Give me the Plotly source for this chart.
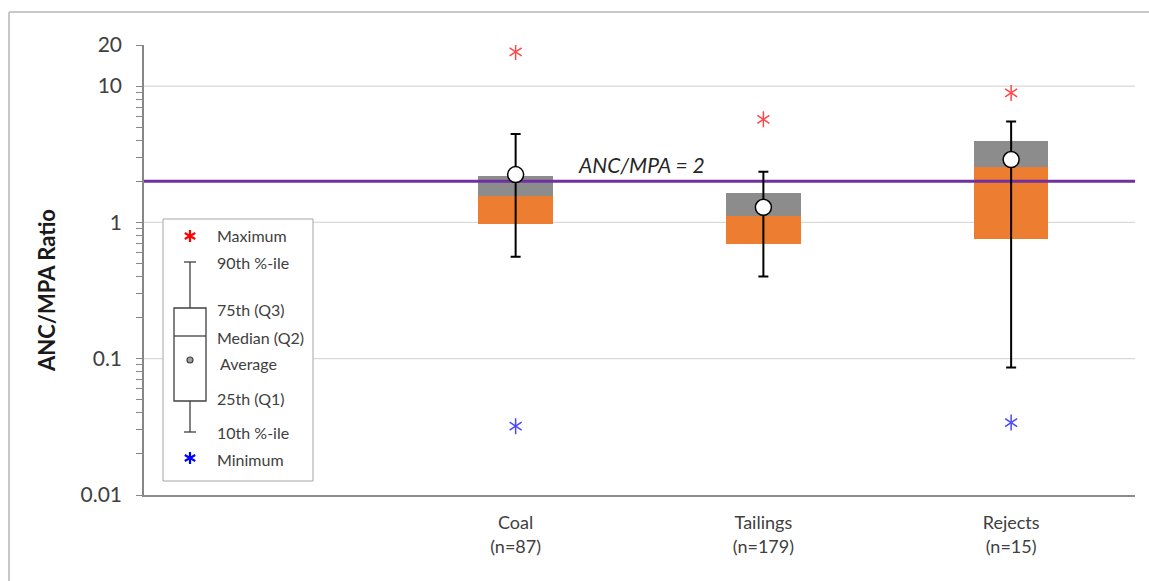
import numpy as np
import plotly.graph_objects as go

# Summary statistics of the ANC/MPA ratio per material type
categories = ["Coal", "Tailings", "Rejects"]
sample_counts = [87, 179, 15]
maximum = [17.8, 5.7, 8.9]
pct90 = [4.45, 2.35, 5.5]
q3 = [2.18, 1.63, 3.98]
median = [1.56, 1.12, 2.54]
average = [2.24, 1.29, 2.89]
q1 = [0.98, 0.69, 0.75]
pct10 = [0.56, 0.40, 0.086]
minimum = [0.032, None, 0.034]
threshold = 2

y_tick_vals = [0.01, 0.1, 1, 10, 20]
y_tick_text = ["0.01", "0.1", "1", "10", "20"]
grid_vals = [0.1, 1, 10]

FONT = "Lato"
ORANGE = "#ED7D31"
GREY = "#8C8C8C"
PURPLE = "#7030A0"
RED = "#FF4848"
BLUE = "#4848FF"

xpos = [1, 2, 3]
tick_text = [f"{c}<br>(n={n})" for c, n in zip(categories, sample_counts)]

# plot-area pixel geometry (figure is 1149 x 581)
W, H = 1149, 581
L, R, T, B = 144, 1135, 45, 495


def px(x):
    return (x - L) / (R - L)


def py(y):
    return (B - y) / (B - T)


fig = go.Figure()

# lower half of the box: Q1 -> median
fig.add_trace(go.Bar(
    x=xpos, base=q1, y=[m - a for m, a in zip(median, q1)],
    width=0.3, marker=dict(color=ORANGE, line=dict(width=0)),
    showlegend=False, hoverinfo="skip"))
# upper half of the box: median -> Q3
fig.add_trace(go.Bar(
    x=xpos, base=median, y=[b - m for b, m in zip(q3, median)],
    width=0.3, marker=dict(color=GREY, line=dict(width=0)),
    showlegend=False, hoverinfo="skip"))

# ANC/MPA = 2 reference line
fig.add_trace(go.Scatter(
    x=[-0.5, 3.5], y=[threshold, threshold], mode="lines",
    line=dict(color=PURPLE, width=3), showlegend=False, hoverinfo="skip"))

# average with 10th-90th percentile whiskers
fig.add_trace(go.Scatter(
    x=xpos, y=average, mode="markers",
    marker=dict(symbol="circle", size=16, color="white",
                line=dict(color="black", width=1.5)),
    error_y=dict(type="data", symmetric=False,
                 array=[p - a for p, a in zip(pct90, average)],
                 arrayminus=[a - p for a, p in zip(average, pct10)],
                 color="black", thickness=2, width=5),
    showlegend=False))

# maximum / minimum as six-armed stars
for vals, col in ((maximum, RED), (minimum, BLUE)):
    for sym in ("y-up-open", "y-down-open"):
        fig.add_trace(go.Scatter(
            x=xpos, y=vals, mode="markers",
            marker=dict(symbol=sym, size=10, color=col,
                        line=dict(color=col, width=1.5)),
            showlegend=False, hoverinfo="skip"))

shapes = []
# horizontal gridlines
for g in grid_vals:
    shapes.append(dict(type="line", xref="paper", yref="y", x0=0, x1=1,
                       y0=g, y1=g, layer="below",
                       line=dict(color="#D9D9D9", width=1.3)))

# outer frame (top and left edges)
shapes.append(dict(type="line", xref="paper", yref="paper",
                   x0=px(9), x1=px(W + 5), y0=py(12), y1=py(12),
                   line=dict(color="#C8C8C8", width=2)))
shapes.append(dict(type="line", xref="paper", yref="paper",
                   x0=px(9), x1=px(9), y0=py(12), y1=py(H + 5),
                   line=dict(color="#C8C8C8", width=2)))

# key panel
shapes.append(dict(type="rect", xref="paper", yref="paper",
                   x0=px(163), x1=px(313), y0=py(219), y1=py(481),
                   layer="below", fillcolor="white",
                   line=dict(color="#A6A6A6", width=1)))

KC = 190  # key glyph centre column
dark = "#404040"


def seg(x0, y0, x1, y1, color=dark, width=1.3):
    return dict(type="line", xref="paper", yref="paper",
                x0=px(x0), x1=px(x1), y0=py(y0), y1=py(y1),
                line=dict(color=color, width=width))


def star(cx, cy, color, r=6):
    out = [seg(cx, cy - r, cx, cy + r, color, 2.2)]
    dx, dy = r * 0.87, r * 0.5
    out.append(seg(cx - dx, cy - dy, cx + dx, cy + dy, color, 2.2))
    out.append(seg(cx - dx, cy + dy, cx + dx, cy - dy, color, 2.2))
    return out


shapes += star(KC, 236, "#FF0000")
shapes += star(KC, 458, "#0000FF")
shapes.append(seg(KC - 6, 262, KC + 6, 262))
shapes.append(seg(KC, 262, KC, 308))
shapes.append(dict(type="rect", xref="paper", yref="paper",
                   x0=px(174), x1=px(206), y0=py(308), y1=py(401),
                   fillcolor="white", line=dict(color=dark, width=1.3)))
shapes.append(seg(174, 336, 206, 336))
shapes.append(seg(KC, 401, KC, 432))
shapes.append(seg(KC - 6, 432, KC + 6, 432))
shapes.append(dict(type="circle", xref="paper", yref="paper",
                   x0=px(KC - 3), x1=px(KC + 3), y0=py(357), y1=py(363),
                   fillcolor="#A0A0A0", line=dict(color=dark, width=1.2)))

key_labels = [("Maximum", 236, 215), ("90th %-ile", 262, 215),
              ("75th (Q3)", 309, 215), ("Median (Q2)", 337, 215),
              ("Average", 363, 218), ("25th (Q1)", 398, 215),
              ("10th %-ile", 432, 215), ("Minimum", 459, 215)]

annotations = []
for text, yy, xx in key_labels:
    annotations.append(dict(text=text, xref="paper", yref="paper",
                            x=px(xx), y=py(yy), xanchor="left",
                            yanchor="middle", showarrow=False,
                            font=dict(family=FONT, size=16, color="#404040")))

annotations.append(dict(text="<i>ANC/MPA = 2</i>", xref="x", yref="y",
                        x=1.51, y=np.log10(threshold), yshift=17,
                        showarrow=False,
                        font=dict(family=FONT, size=21, color="#262626")))

# y-axis title
annotations.append(dict(text="<b>ANC/MPA Ratio</b>", xref="paper",
                        yref="paper", x=px(46), y=py(291),
                        xanchor="center", yanchor="middle", textangle=-90,
                        showarrow=False,
                        font=dict(family=FONT, size=22, color="#1A1A1A")))

minor_vals = [m * 10.0 ** e for e in (-2, -1, 0) for m in range(2, 10)]

fig.update_layout(
    width=W, height=H,
    margin=dict(l=L, r=W - R, t=T, b=H - B),
    paper_bgcolor="white", plot_bgcolor="white",
    barmode="overlay", bargap=0,
    shapes=shapes, annotations=annotations,
    font=dict(family=FONT, color="#404040"),
    xaxis=dict(range=[-0.5, 3.5], tickmode="array", tickvals=xpos,
               ticktext=tick_text, showgrid=False, zeroline=False,
               showline=True, linecolor="#8C8C8C", linewidth=1.5,
               ticks="", ticklabelstandoff=11,
               tickfont=dict(family=FONT, size=18, color="#404040")),
    yaxis=dict(type="log", range=[-2, np.log10(20)], tickmode="array",
               tickvals=y_tick_vals, ticktext=y_tick_text,
               showgrid=False, zeroline=False, showline=True,
               linecolor="#868686", linewidth=1.5,
               ticks="outside", ticklen=6, tickcolor="#868686", tickwidth=1.3,
               ticklabelstandoff=10,
               minor=dict(tickvals=minor_vals, ticks="outside", ticklen=6,
                          tickcolor="#868686", tickwidth=1.3, showgrid=False),
               tickfont=dict(family=FONT, size=21, color="#404040")),
)

fig.write_html("out.html")
